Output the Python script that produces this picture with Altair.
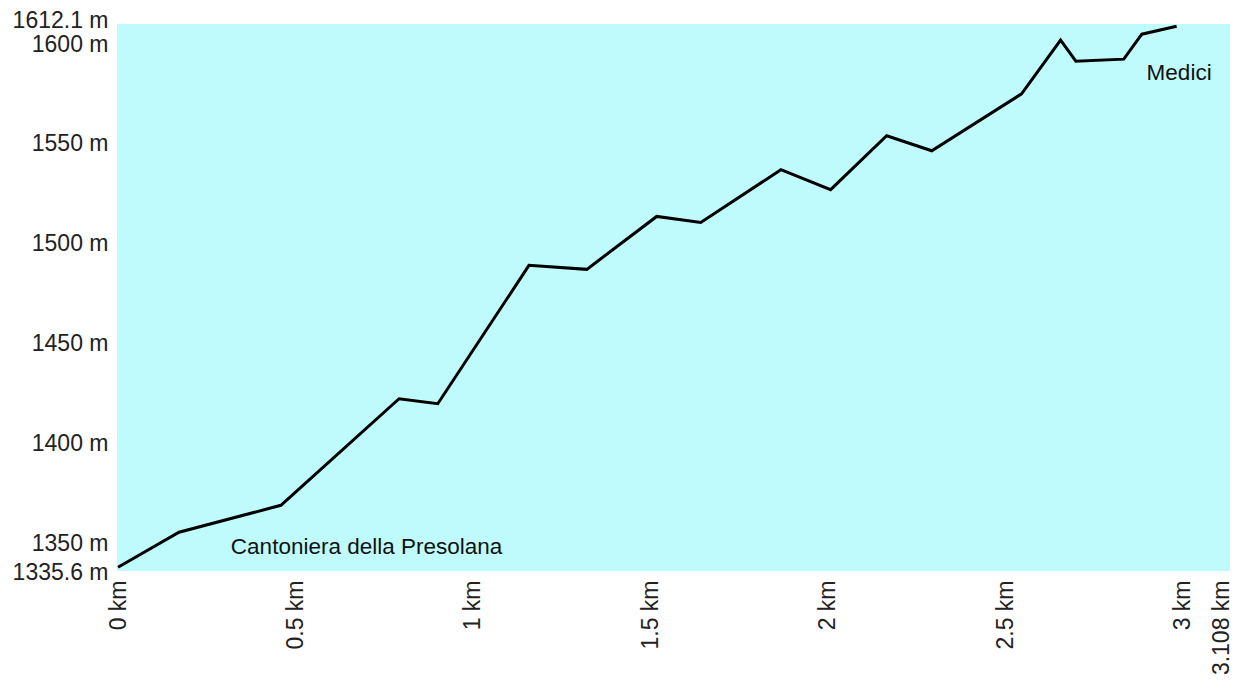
import altair as alt
import pandas as pd

# profile vertices (km, m)
dist_km = [0.0, 0.172, 0.459, 0.792, 0.901, 1.158, 1.321, 1.518, 1.642, 1.868,
           2.008, 2.166, 2.293, 2.546, 2.656, 2.699, 2.834, 2.885, 2.983]
elev_m = [1338.0, 1355.5, 1369.0, 1422.4, 1419.9, 1489.2, 1487.2, 1513.7, 1510.7, 1537.1,
          1527.1, 1554.1, 1546.6, 1575.1, 1602.0, 1591.5, 1592.5, 1605.0, 1609.0]

x_ticks = [0, 0.5, 1, 1.5, 2, 2.5, 3, 3.108]
y_ticks = [1335.6, 1350, 1400, 1450, 1500, 1550, 1600, 1612.1]

place_names = ["Cantoniera della Presolana", "Medici"]
place_km = [0.318, 2.99]
place_m = [1344.5, 1582.0]
place_align = ["left", "center"]

df = pd.DataFrame({"km": dist_km, "m": elev_m})
labels = pd.DataFrame({"name": place_names, "km": place_km, "m": place_m, "align": place_align})

FONT = "Liberation Sans"
AX_SIZE = 23
TXT_SIZE = 22.5

xs = alt.Scale(domain=[0, 3.108], range=[1, 1104], nice=False, zero=False)
ys = alt.Scale(domain=[1335.6, 1612.1], range=[548, -4], nice=False, zero=False)

line = alt.Chart(df).mark_line(color="black", strokeWidth=3, strokeJoin="miter").encode(
    x=alt.X("km:Q", scale=xs, axis=alt.Axis(
        values=x_ticks, labelExpr="datum.value + ' km'", labelAngle=270,
        title=None, grid=False, domain=False, ticks=False, tickSize=0,
        labelPadding=9, labelFontSize=AX_SIZE, labelFont=FONT, labelColor="#222222",
        labelOverlap=False, labelFlush=False)),
    y=alt.Y("m:Q", scale=ys, axis=alt.Axis(
        values=y_ticks, labelExpr="datum.value + ' m'",
        title=None, grid=False, domain=False, ticks=False, tickSize=0,
        labelPadding=9, labelFontSize=AX_SIZE, labelFont=FONT, labelColor="#222222",
        labelOverlap=False, labelFlush=False)),
)

text_left = alt.Chart(labels[labels["align"] == "left"]).mark_text(
    align="left", baseline="alphabetic", fontSize=TXT_SIZE, font=FONT, color="#111111"
).encode(x=alt.X("km:Q", scale=xs), y=alt.Y("m:Q", scale=ys), text="name:N")

text_center = alt.Chart(labels[labels["align"] == "center"]).mark_text(
    align="center", baseline="alphabetic", fontSize=TXT_SIZE, font=FONT, color="#111111"
).encode(x=alt.X("km:Q", scale=xs), y=alt.Y("m:Q", scale=ys), text="name:N")

chart = alt.layer(line, text_left, text_center).properties(
    width=1113, height=547,
    autosize=alt.AutoSizeParams(type="none"),
    padding={"left": 109, "top": 16, "right": 10, "bottom": 108},
).configure_view(fill="#bffbfc", stroke=None)

chart.save("out.html", embed_options={"renderer": "svg", "actions": False})
